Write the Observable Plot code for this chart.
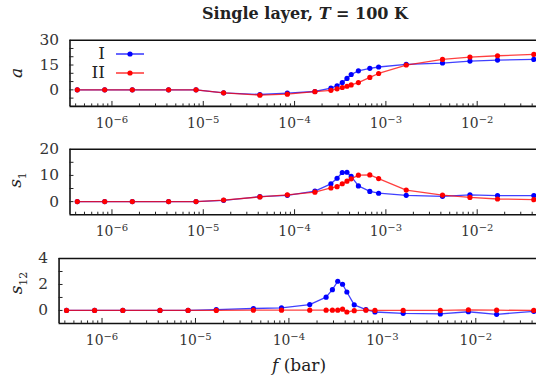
<!DOCTYPE html>
<html>
<head>
<meta charset="utf-8">
<script src="https://cdn.jsdelivr.net/npm/d3@7"></script>
<script src="https://cdn.jsdelivr.net/npm/@observablehq/plot@0.6"></script>
<style>
  body { margin: 0; background: #fff; }
  #fig { position: relative; width: 536px; height: 377px; overflow: hidden; background: #fff;
         font-family: "DejaVu Serif", serif; color: #222; }
  .panel { position: absolute; left: 0; }
  .title { position: absolute; top: 4px; left: 0; width: 610px; text-align: center;
           font-weight: bold; font-size: 16px; }
  .ylab { position: absolute; font-size: 17px; transform: translate(-50%, -50%) rotate(-90deg); white-space: nowrap; }
  .ylab sub { font-size: 11px; }
  .xlab { position: absolute; top: 355px; left: 0; width: 598px; text-align: center; font-size: 17px; }
  .legend { position: absolute; font-size: 17px; }
</style>
</head>
<body>
<div id="fig"></div>
<script>
// Sampled partial pressures f (bar)
const pressure = [4.17e-7, 8.33e-7, 1.67e-6, 4.17e-6, 8.33e-6, 1.67e-5, 4.17e-5, 8.33e-5,
  1.67e-4, 2.5e-4, 2.92e-4, 3.33e-4, 3.75e-4, 4.17e-4, 5e-4, 6.67e-4, 8.33e-4,
  1.67e-3, 4.17e-3, 8.33e-3, 1.67e-2, 4.17e-2];

// a
const aI  = [0, 0, 0, 0, 0, -1.8, -2.8, -2.0, -1.0, 1.0, 2.5, 4.4, 6.9, 9.3, 11.5, 13.0, 13.8, 15.4, 16.2, 17.4, 18.0, 18.4];
const aII = [0, 0, 0, 0, 0, -1.8, -3.2, -2.6, -1.1, -0.3, 0.6, 1.4, 2.2, 3.0, 4.4, 7.5, 9.9, 15.0, 18.4, 19.8, 20.6, 21.4];

// s1
const s1I  = [0, 0, 0, 0, 0, 0.5, 1.9, 2.4, 4.0, 6.8, 8.9, 11.1, 11.2, 9.6, 6.0, 3.9, 3.2, 2.4, 2.0, 2.6, 2.3, 2.3];
const s1II = [0, 0, 0, 0, 0, 0.6, 1.8, 2.6, 3.6, 5.2, 5.7, 6.8, 7.8, 8.7, 10.1, 10.2, 8.8, 4.4, 2.5, 1.6, 1.0, 0.75];

// s12
const s12I  = [0, 0, 0, 0, 0, 0.07, 0.15, 0.2, 0.45, 1.02, 1.6, 2.25, 2.02, 1.42, 0.43, 0.06, -0.12, -0.22, -0.27, -0.1, -0.3, -0.07];
const s12II = [0, 0, 0, 0, 0, 0, 0.02, 0.02, 0.02, 0.02, 0.02, 0.02, 0.1, -0.12, -0.02, 0.02, 0, 0, 0, 0.05, 0.02, 0];

const seriesNames = ["I", "II"];
const seriesColors = ["#0000ff", "#ff0000"];

// x axis ticks
const majorTicks = [1e-6, 1e-5, 1e-4, 1e-3, 1e-2];
const xDomain = [3.47e-7, 4.46e-2];
const minorTicks = [];
for (let e = -7; e <= -2; e++) for (let m = 2; m <= 9; m++) {
  const v = m * 10 ** e;
  if (v > xDomain[0] && v < xDomain[1]) minorTicks.push(v);
}
const powerFormat = (v) => "10^" + Math.round(Math.log10(v));

function rows(values, name) {
  return pressure.map((p, i) => ({p, v: values[i], s: name}));
}

// turn "10^-6" labels into a base with a raised exponent
function raiseExponents(svg) {
  svg.querySelectorAll('[aria-label="x-axis tick label"] text').forEach((t) => {
    const [base, exp] = t.textContent.split("^");
    if (exp === undefined) return;
    const sel = d3.select(t);
    sel.text(null);
    sel.append("tspan").text(base);
    sel.append("tspan").attr("dy", "-0.5em").attr("font-size", "0.72em").text(exp.replace("-", "\u2212"));
  });
}

function panel({top, height, marginTop, marginBottom, marginLeft, yDomain, yTicks, yLabels, I, II}) {
  const data = [rows(I, "I"), rows(II, "II")];
  const marks = [
    Plot.ruleY([yDomain[1]], {stroke: "#111", strokeWidth: 1.6}),
    Plot.ruleY([yDomain[0]], {stroke: "#111", strokeWidth: 1.6}),
    Plot.ruleX([xDomain[0]], {stroke: "#111", strokeWidth: 1.6}),
    Plot.axisX({ticks: majorTicks, tickSize: -5, tickFormat: () => "", stroke: "#222"}),
    Plot.axisX({ticks: minorTicks, tickSize: -2.5, tickFormat: () => "", stroke: "#222"}),
    Plot.axisX({ticks: majorTicks, tickSize: 0, tickPadding: 12, tickFormat: powerFormat, fontSize: 14, fill: "#333"}),
    Plot.axisY({ticks: yTicks, tickSize: -4, tickFormat: () => "", stroke: "#222"}),
    Plot.axisY({ticks: yLabels, tickSize: 0, tickPadding: 11, tickFormat: d3.format("d"), fontSize: 15.5, fill: "#333"})
  ];
  data.forEach((d, k) => {
    marks.push(Plot.line(d, {x: "p", y: "v", stroke: seriesColors[k], strokeWidth: 1.3, strokeOpacity: 0.75}));
    marks.push(Plot.dot(d, {x: "p", y: "v", fill: seriesColors[k], r: 2.6}));
  });
  const svg = Plot.plot({
    width: 540, height, marginTop, marginBottom, marginLeft, marginRight: 0,
    x: {type: "log", domain: xDomain, label: null},
    y: {domain: yDomain, label: null},
    style: {background: "transparent", fontFamily: "'DejaVu Serif', serif", overflow: "visible"},
    marks
  });
  raiseExponents(svg);
  svg.classList.add("panel");
  svg.style.top = top + "px";
  return svg;
}

const fig = document.getElementById("fig");
fig.append(
  panel({top: 0, height: 140, marginTop: 40, marginBottom: 33.3, marginLeft: 70,
         yDomain: [-10, 30], yTicks: [-5, 0, 5, 10, 15, 20, 25], yLabels: [0, 15, 30], I: aI, II: aII}),
  panel({top: 110, height: 140, marginTop: 39, marginBottom: 35, marginLeft: 70,
         yDomain: [-5, 20], yTicks: [0, 5, 10, 15], yLabels: [0, 10, 20], I: s1I, II: s1II}),
  panel({top: 220, height: 130, marginTop: 38.3, marginBottom: 26.3, marginLeft: 59,
         yDomain: [-1, 4], yTicks: [0, 1, 2, 3], yLabels: [0, 2, 4], I: s12I, II: s12II})
);

// title and axis titles
fig.insertAdjacentHTML("beforeend", `
  <div class="title">Single layer, <i>T</i> = 100 K</div>
  <div class="ylab" style="left:16px;top:73px"><i>a</i></div>
  <div class="ylab" style="left:17px;top:180px"><i>s</i><sub>1</sub></div>
  <div class="ylab" style="left:18px;top:283px"><i>s</i><sub>12</sub></div>
  <div class="xlab"><i>f</i> (bar)</div>
`);

// legend inside the top panel
seriesNames.forEach((name, k) => {
  const y = 54 + k * 19;
  const item = document.createElement("div");
  item.className = "legend";
  item.style.left = "0px";
  item.style.top = (y - 11) + "px";
  item.innerHTML = `<span style="position:absolute;right:-105px;width:60px;text-align:right;top:0">${name}</span>`;
  fig.append(item);
  const svg = d3.create("svg").attr("width", 40).attr("height", 10)
    .style("position", "absolute").style("left", "113px").style("top", (y - 5) + "px");
  svg.append("line").attr("x1", 3).attr("x2", 31).attr("y1", 5).attr("y2", 5)
    .attr("stroke", seriesColors[k]).attr("stroke-width", 1.6).attr("stroke-opacity", 0.75);
  svg.append("circle").attr("cx", 17).attr("cy", 5).attr("r", 2.6).attr("fill", seriesColors[k]);
  fig.append(svg.node());
});
</script>
</body>
</html>
